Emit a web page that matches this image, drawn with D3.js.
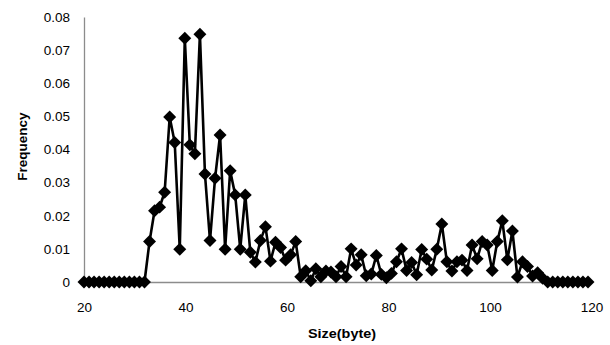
<!DOCTYPE html>
<html>
<head>
<meta charset="utf-8">
<script src="https://cdn.jsdelivr.net/npm/d3@7"></script>
<style>
html,body{margin:0;padding:0;background:#fff;}
svg{display:block;font-family:"Liberation Sans",Arial,sans-serif;}
</style>
</head>
<body>
<svg id="chart" width="610" height="345"></svg>
<script>
const sizes = d3.range(20, 121);
const frequency = [
  0,0,0,0,0,0,0,0,0,0,0,0,0,               // 20-32
  0.0122,0.0215,0.0226,0.0271,0.0498,0.0421,0.0099,0.0736,0.0414,0.0387, // 33-42
  0.0748,0.0326,0.0125,0.0313,0.0444,0.0099,0.0336,0.0263,0.0099,0.0263, // 43-52
  0.0090,0.0060,0.0125,0.0167,0.0063,0.0120,0.0104,0.0066,0.0082,0.0122, // 53-62
  0.0016,0.0034,0.0004,0.0040,0.0016,0.0033,0.0030,0.0016,0.0047,0.0016, // 63-72
  0.0100,0.0051,0.0082,0.0019,0.0024,0.0080,0.0023,0.0013,0.0026,0.0061, // 73-82
  0.0100,0.0035,0.0059,0.0022,0.0098,0.0069,0.0036,0.0099,0.0175,0.0061, // 83-92
  0.0033,0.0061,0.0066,0.0035,0.0112,0.0070,0.0122,0.0112,0.0035,0.0122, // 93-102
  0.0185,0.0067,0.0154,0.0015,0.0061,0.0047,0.0018,0.0028,0.0011,0,      // 103-112
  0,0,0,0,0,0,0,0                                                       // 113-120
];
const xTicks = [20, 40, 60, 80, 100, 120];
const yTicks = [0, 0.01, 0.02, 0.03, 0.04, 0.05, 0.06, 0.07, 0.08];
const xTitle = "Size(byte)";
const yTitle = "Frequency";

const data = sizes.map((s, i) => ({x: s, y: frequency[i]}));

const svg = d3.select("#chart");
const mLeft = 84, mRight = 588, mTop = 17, mBottom = 282;
const x = d3.scaleLinear().domain([20, 120]).range([mLeft, mRight]);
const y = d3.scaleLinear().domain([0, 0.08]).range([mBottom, mTop]);

const axisColor = "#8c8c8c";
const font = "'Liberation Sans',Arial,sans-serif";

// y axis
const yAxis = svg.append("g").attr("transform", `translate(${mLeft},0)`)
  .call(d3.axisLeft(y).tickValues(yTicks).tickSize(0).tickPadding(14)
    .tickFormat(d => d === 0 ? "0" : d3.format(".2f")(d)));
yAxis.select(".domain").attr("stroke", axisColor).attr("stroke-width", 1.3);
yAxis.selectAll("text").attr("font-size", 13.5).attr("fill", "#000")
  .attr("font-family", font);

// x axis
const xAxis = svg.append("g").attr("transform", `translate(0,${mBottom})`)
  .call(d3.axisBottom(x).tickValues(xTicks).tickSize(0).tickPadding(20));
xAxis.select(".domain").attr("stroke", axisColor).attr("stroke-width", 1.3)
  .attr("d", `M${mLeft},0.5H${x(120) + 4}`);
xAxis.selectAll("text").attr("font-size", 13.5).attr("fill", "#000")
  .attr("font-family", font)
  .attr("dx", d => (d - 20) * 0.035);

// line
svg.append("path").datum(data)
  .attr("fill", "none").attr("stroke", "#000").attr("stroke-width", 2.6)
  .attr("stroke-linejoin", "round")
  .attr("d", d3.line().x(d => x(d.x)).y(d => y(d.y)));

// diamond markers
const sym = d3.symbol(d3.symbolSquare, 84);
svg.append("g").selectAll("path").data(data).join("path")
  .attr("d", sym)
  .attr("fill", "#000")
  .attr("transform", d => `translate(${x(d.x)},${y(d.y)}) rotate(45)`);

// titles
svg.append("text").attr("x", 342).attr("y", 338)
  .attr("text-anchor", "middle").attr("font-size", 13.5).attr("font-weight", "bold")
  .attr("font-family", font).attr("textLength", 68).attr("lengthAdjust", "spacingAndGlyphs")
  .text(xTitle);
svg.append("text").attr("transform", `translate(27,${(mTop + mBottom) / 2 - 3}) rotate(-90)`)
  .attr("text-anchor", "middle").attr("font-size", 13.5).attr("font-weight", "bold")
  .attr("font-family", font)
  .text(yTitle);
</script>
</body>
</html>
